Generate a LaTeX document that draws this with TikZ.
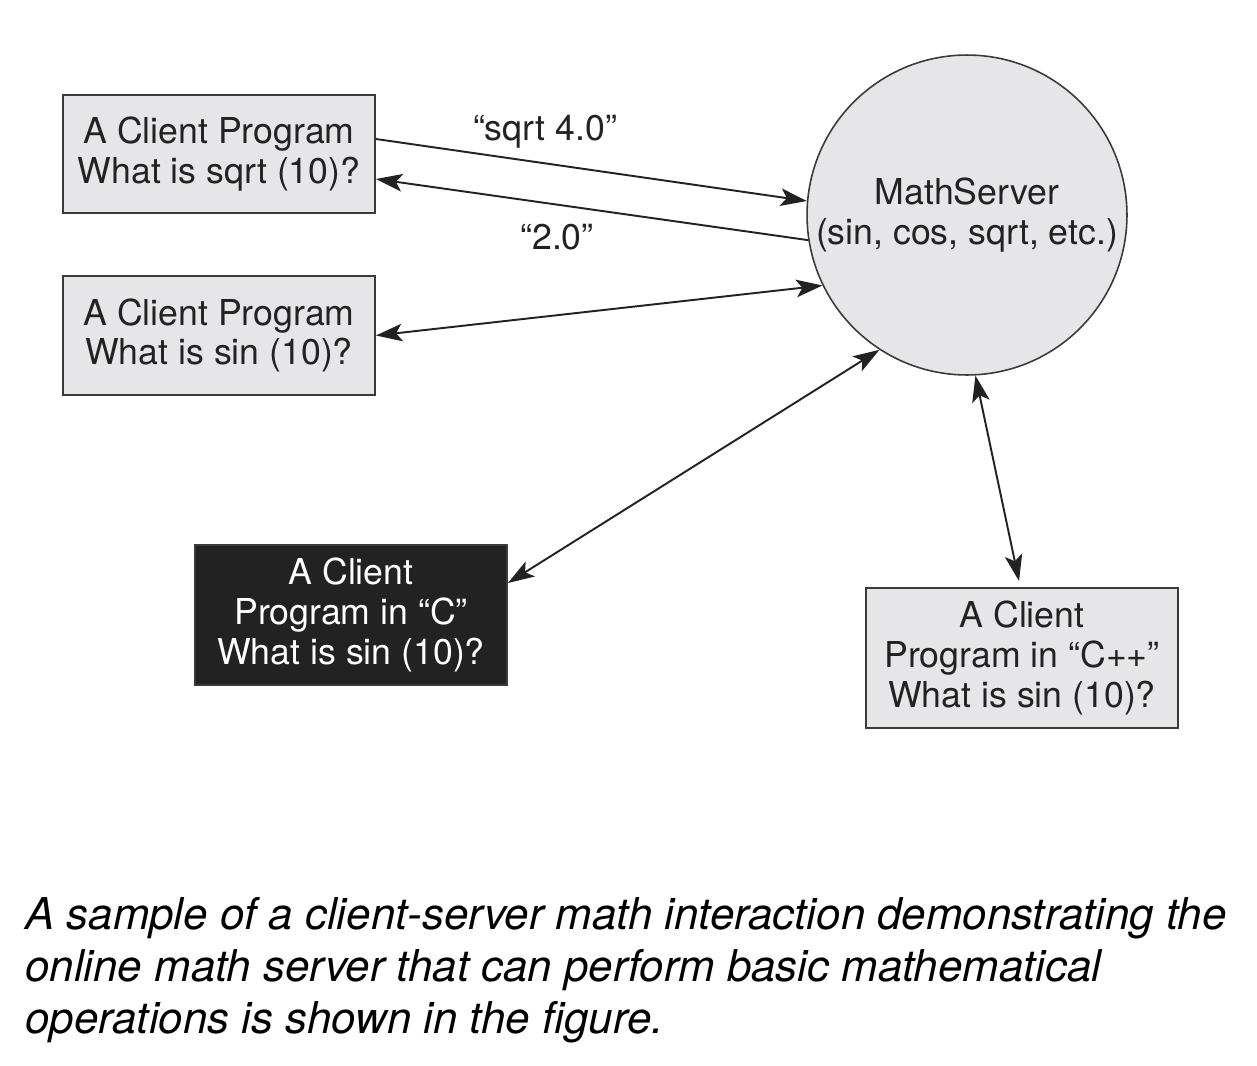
\documentclass[tikz,border=0pt]{standalone}
\usepackage{fontspec}
\setmainfont{TeX Gyre Heros}
\usetikzlibrary{arrows.meta,calc}
\definecolor{boxgray}{HTML}{E6E6E8}
\definecolor{edge}{HTML}{3A3A3A}
\definecolor{ink}{HTML}{222222}
\begin{document}
\begin{tikzpicture}[x=0.02cm,y=-0.02cm,
  >={Stealth[length=15pt,width=10pt,inset=3.5pt]},
  client/.style={draw=edge, line width=1.1pt, fill=boxgray, minimum width=6.24cm,
    inner sep=0pt, align=center, text=ink, font=\fontsize{20.3}{22.7}\selectfont},
  lbl/.style={text=ink, font=\fontsize{20.3}{22.7}\selectfont, inner sep=0pt},
  conn/.style={draw=ink, line width=1.1pt, ->},
  dconn/.style={draw=ink, line width=1.1pt, <->}
]
\useasboundingbox (0,0) rectangle (1257,1065);
\node[client, minimum height=2.36cm] (b1) at (219,154) {A Client Program\\What is sqrt (10)?};
\node[client, minimum height=2.38cm] (b2) at (219,335.5) {A Client Program\\What is sin (10)?};
\node[client, fill=ink, text=white, minimum height=2.8cm] (b3) at (351,615) {A Client\\Program in “C”\\What is sin (10)?};
\node[client, minimum height=2.8cm] (b4) at (1022,658) {A Client\\Program in “C++”\\What is sin (10)?};
\node[circle, draw=edge, line width=0.9pt, fill=boxgray, minimum size=6.4cm, inner sep=0pt,
  text=ink, align=center, font=\fontsize{20.3}{22.7}\selectfont] (ms) at (967,215) {MathServer\\(sin, cos, sqrt, etc.)};
\node[lbl] (l1) at (545,132) {“sqrt 4.0”};
\node[lbl] (l2) at (557,237) {“2.0”};
\draw[conn] ($(b1.east)+(0,-15)$) -- (ms.175.4);
\draw[conn] (ms.189.6) -- ($(b1.east)+(0,25)$);
\draw[dconn] (b2.east) -- (ms.206.4);
\draw[dconn] ($(b3.east)+(0,-32)$) -- (ms.237.8);
\draw[dconn] (ms.273.6) -- ($(b4.north)+(-3,-6)$);
\node[anchor=north west, align=left, inner sep=0pt, text=black,
  font=\fontsize{24.95}{29.5}\selectfont\itshape] (cap) at (25,897)
  {A sample of a client-server math interaction demonstrating the\\online math server that can perform basic mathematical\\operations is shown in the figure.};
\end{tikzpicture}
\end{document}
